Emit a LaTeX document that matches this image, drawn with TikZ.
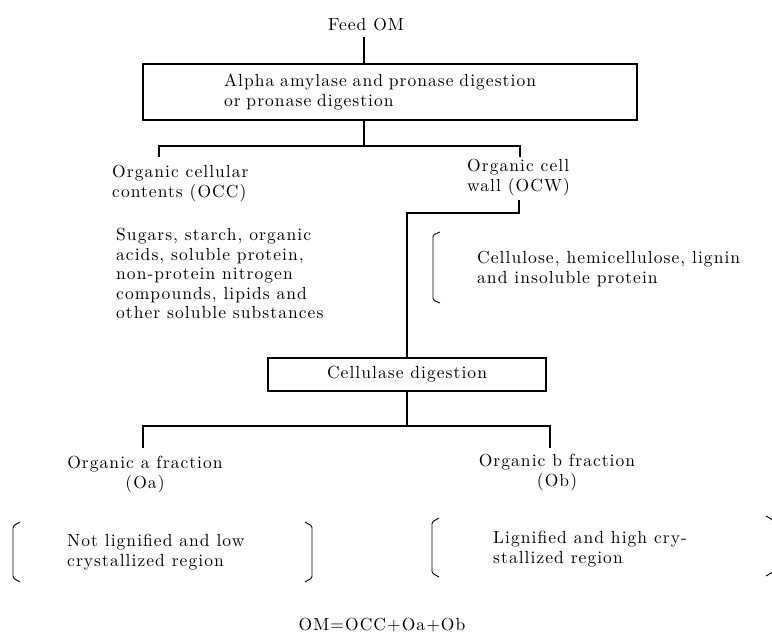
\documentclass[tikz,border=0pt]{standalone}
\usepackage{fontspec}
\newfontfamily\flowfam{lmroman10-regular.otf}[LetterSpace=6]
\newcommand{\flowfont}{\flowfam\fontsize{17.5}{19.5}\selectfont}

\begin{document}
\begin{tikzpicture}[x=1pt,y=-1pt,
  txt/.style={font=\flowfont,inner sep=0pt,align=left},
  box/.style={draw,line width=1.2pt,font=\flowfont},
  link/.style={line width=1.1pt},
  brk/.style={line width=0.9pt,rounded corners=1.5pt}]
\useasboundingbox (0,0) rectangle (772,635);
\clip (0,0) rectangle (772,635);
\node[txt,anchor=base] (feed) at (366,30) {Feed OM};
\coordinate (feedfoot) at (364,37);
\node[box,text width=332pt,inner xsep=81pt,inner ysep=0pt,minimum height=56pt,align=left] (amyl) at (390,92) {Alpha amylase and pronase digestion\\or pronase digestion};
\draw[link] (feedfoot) -- (feedfoot |- amyl.north);
\coordinate (ja) at (364,146);
\coordinate (occtick) at (159,157);
\coordinate (ocwtick) at (520,157);
\draw[link] (amyl.south -| ja) -- (ja);
\draw[link] (occtick) |- (ja) -| (ocwtick);
\node[txt,anchor=north west] (occ) at (112,165) {Organic cellular\\contents (OCC)};
\node[txt,anchor=north west] (ocw) at (467,159) {Organic cell\\wall (OCW)};
\node[txt,anchor=north west] (sugar) at (116,228) {Sugars, starch, organic\\acids, soluble protein,\\non-protein nitrogen\\compounds, lipids and\\other soluble substances};
\node[txt,anchor=north west] (cellu) at (477,251) {Cellulose, hemicellulose, lignin\\and insoluble protein};
\draw[brk] (440,232) -- (433,235) -- (433,300) -- (440,303);
\coordinate (ocwfoot) at (519,200);
\node[box,minimum width=278pt,minimum height=33pt,inner sep=0pt] (cell) at (407,374.5) {Cellulase digestion};
\draw[link] (ocwfoot) -- ++(0,13) -| (cell.north);
\coordinate (jb) at (407,426);
\coordinate (oatick) at (143,448);
\coordinate (obtick) at (550,448);
\draw[link] (cell.south) -- (jb);
\draw[link] (oatick) |- (jb) -| (obtick);
\node[txt,align=center,anchor=north] (oa) at (145,456) {Organic a fraction\\(Oa)};
\node[txt,align=center,anchor=north] (ob) at (557,454) {Organic b fraction\\(Ob)};
\node[txt,anchor=north west] (lowc) at (67,534) {Not lignified and low\\crystallized region};
\draw[brk] (20,522) -- (13,526) -- (13,578) -- (20,582);
\draw[brk] (305,522) -- (312,526) -- (312,578) -- (305,582);
\node[txt,anchor=north west] (highc) at (493,531) {Lignified and high cry-\\stallized region};
\draw[brk] (439,518) -- (432,522) -- (432,573) -- (439,577);
\draw[brk] (766,516) -- (773,520) -- (773,572) -- (766,576);
\node[txt,anchor=base] (om) at (382,630) {OM=OCC+Oa+Ob};
\end{tikzpicture}
\end{document}
